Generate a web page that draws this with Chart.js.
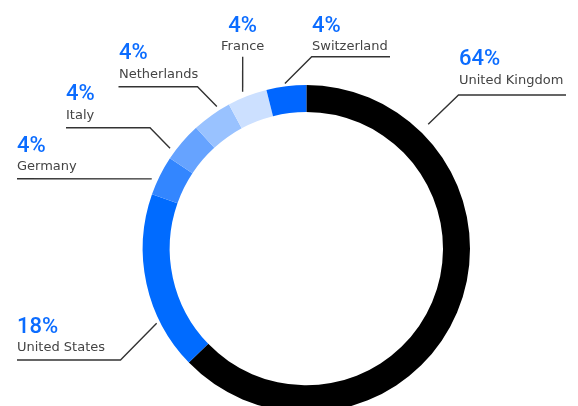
<!DOCTYPE html>
<html>
<head>
<meta charset="utf-8">
<script src="https://cdn.jsdelivr.net/npm/chart.js@4/dist/chart.umd.min.js"></script>
<style>
  html, body { margin: 0; padding: 0; background: #fff; overflow: hidden; }
</style>
</head>
<body>
<canvas id="donutChart" width="578" height="430"></canvas>
<script>
// 나라 이름, 비율(%), 조각 색깔
let countries = ['United Kingdom', 'United States', 'Germany', 'Italy', 'Netherlands', 'France', 'Switzerland'];
let shares = [64, 18, 4, 4, 4, 4, 4];
let sliceColors = ['#000000', '#006bff', '#3386ff', '#66a3ff', '#99c2ff', '#cce0ff', '#0066ff'];

// 라벨 위치 (글자 x, 퍼센트 baseline, 이름 baseline, 정렬, 지시선 꺾이는 점들, 링에 닿는 각도/간격)
let labelLayout = [
  { x: 459, pctY: 65,  nameY: 84,  align: 'left',   path: [[566, 95], [458.5, 95]],    endAngle: 44.4,  gap: 10.5 },
  { x: 17,  pctY: 333, nameY: 350.5, align: 'left', path: [[17, 360], [120.5, 360]],   endAngle: 243.5, gap: 3.6 },
  { x: 17,  pctY: 151.5, nameY: 170, align: 'left', path: [[17, 178.7]],               endAngle: 294.3, gap: 6 },
  { x: 66,  pctY: 100, nameY: 119, align: 'left',   path: [[66, 127.8], [150, 127.8]], endAngle: 306.4, gap: 5.7 },
  { x: 119, pctY: 59,  nameY: 77.5, align: 'left',  path: [[118.5, 86.8], [197.5, 86.8]], endAngle: 327.8, gap: 4.3 },
  { x: 242.7, pctY: 31.5, nameY: 50, align: 'center', path: [[242.7, 56.7]],            endAngle: 337.9, gap: 5.7 },
  { x: 312, pctY: 31.5, nameY: 50, align: 'left',   path: [[390, 56.7], [311.7, 56.7]], endAngle: 352.6, gap: 3 }
];

// 지시선 + 라벨 그리는 플러그인
const leaderLabels = {
  id: 'leaderLabels',
  afterDraw(chart) {
    const ctx = chart.ctx;
    const arc = chart.getDatasetMeta(0).data[0];
    const cx = arc.x, cy = arc.y, R = arc.outerRadius;
    ctx.save();
    labelLayout.forEach((lb, i) => {
      const a = (lb.endAngle - 90) * Math.PI / 180;
      const ex = cx + (R + lb.gap) * Math.cos(a);
      const ey = cy + (R + lb.gap) * Math.sin(a);
      ctx.beginPath();
      ctx.moveTo(lb.path[0][0], lb.path[0][1]);
      for (let k = 1; k < lb.path.length; k++) ctx.lineTo(lb.path[k][0], lb.path[k][1]);
      ctx.lineTo(ex, ey);
      ctx.strokeStyle = '#333333';
      ctx.lineWidth = 1.4;
      ctx.stroke();

      ctx.textAlign = lb.align;
      ctx.textBaseline = 'alphabetic';
      ctx.fillStyle = '#0b6cff';
      ctx.font = '500 22px Roboto';
      ctx.fillText(shares[i] + '%', lb.x, lb.pctY);
      ctx.fillStyle = '#444444';
      ctx.font = '13px "DejaVu Sans"';
      ctx.fillText(countries[i], lb.x, lb.nameY);
    });
    ctx.restore();
  }
};

let donutChart = new Chart(document.getElementById('donutChart'), {
  type: 'doughnut',
  data: {
    labels: countries,
    datasets: [{
      data: shares,
      backgroundColor: sliceColors,
      borderWidth: 0
    }]
  },
  options: {
    responsive: false,
    animation: false,
    cutout: '83.5%',
    layout: { padding: { left: 142.7, top: 85, right: 108, bottom: 17.6 } },
    plugins: {
      legend: { display: false },
      tooltip: { enabled: false }
    }
  },
  plugins: [leaderLabels]
});
</script>
</body>
</html>
